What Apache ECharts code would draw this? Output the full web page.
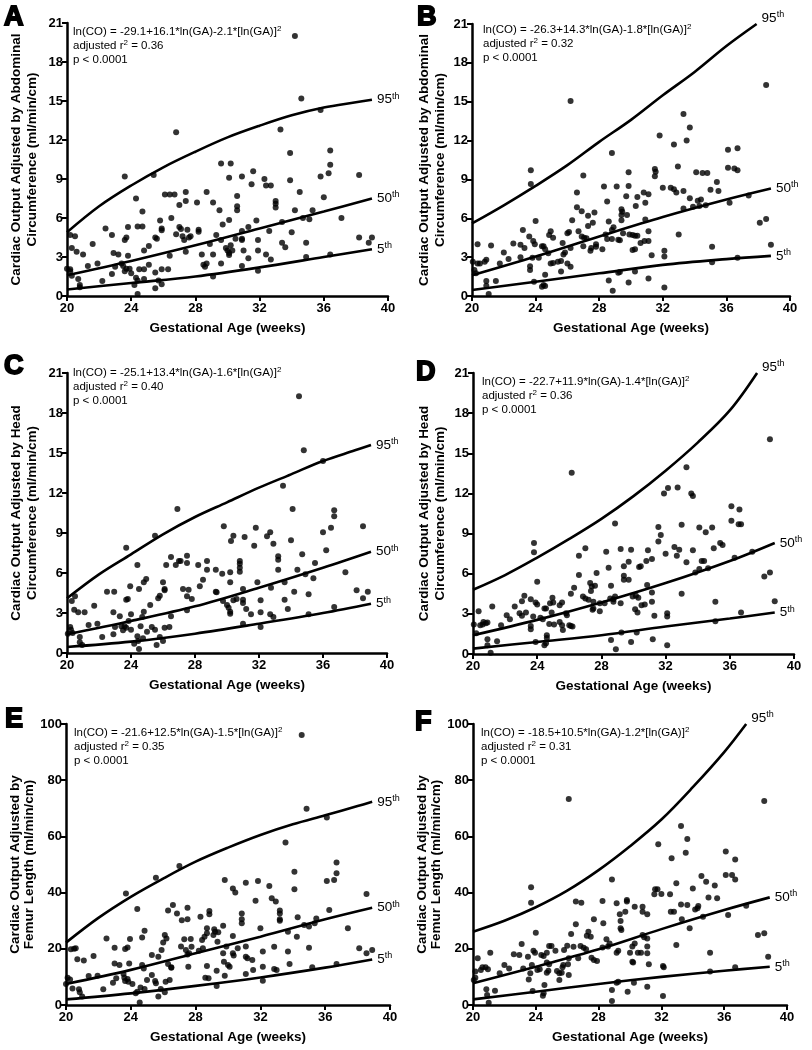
<!DOCTYPE html>
<html><head><meta charset="utf-8">
<script src="https://cdn.jsdelivr.net/npm/echarts@6/dist/echarts.min.js"></script>
<style>html,body{margin:0;padding:0;background:#fff}#c{width:812px;height:1050px}</style>
</head><body><div id="c"></div>
<script>
// ---------- DATA ----------
const panelLetters = ['A','B','C','D','E','F'];
const xTicks = [20,24,28,32,36,40];
const yTicksSmall = [0,3,6,9,12,15,18,21];
const yTicksLarge = [0,20,40,60,80,100];
const xTitle = 'Gestational Age (weeks)';
const yTitles = [
  'Cardiac Output Adjusted by Abdominal\nCircumference (ml/min/cm)',
  'Cardiac Output Adjusted by Abdominal\nCircumference (ml/min/cm)',
  'Cardiac Output Adjusted by Head\nCircumference (ml/min/cm)',
  'Cardiac Output Adjusted by Head\nCircumference (ml/min/cm)',
  'Cardiac Output Adjusted by\nFemur Length (ml/min/cm)',
  'Cardiac Output Adjusted by\nFemur Length (ml/min/cm)'
];
const formulas = [
  'ln(CO) = -29.1+16.1*ln(GA)-2.1*[ln(GA)]',
  'ln(CO) = -26.3+14.3*ln(GA)-1.8*[ln(GA)]',
  'ln(CO) = -25.1+13.4*ln(GA)-1.6*[ln(GA)]',
  'ln(CO) = -22.7+11.9*ln(GA)-1.4*[ln(GA)]',
  'ln(CO) = -21.6+12.5*ln(GA)-1.5*[ln(GA)]',
  'ln(CO) = -18.5+10.5*ln(GA)-1.2*[ln(GA)]'
];
const r2Values = ['0.36','0.32','0.40','0.36','0.35','0.31'];
const pValue = 'p < 0.0001';
const pctNames = ['95','50','5'];

const ptsA = [[34.2,20.0],[34.6,15.2],[35.8,14.3],[26.8,12.6],[33.3,12.8],[33.9,11.0],[36.4,11.2],[36.4,10.1],[36.3,9.45],[35.8,9.2],[38.2,9.3],[23.6,9.2],[25.4,9.3],[29.6,10.2],[30.2,10.2],[31.6,9.6],[30.9,9.2],[30.1,9.1],[32.3,9.0],[33.9,8.9],[31.5,8.6],[32.4,8.5],[32.7,8.5],[28.7,8.0],[27.4,8.0],[34.5,8.0],[26.1,7.8],[26.4,7.8],[26.7,7.8],[27.4,7.3],[27.0,7.0],[28.1,7.2],[29.1,7.2],[30.6,7.7],[30.6,6.9],[30.6,6.6],[33.0,7.3],[33.0,7.1],[33.0,6.8],[36.0,7.6],[24.3,7.5],[37.1,6.0],[34.2,6.6],[34.7,6.0],[35.1,5.9],[35.3,6.6],[29.5,6.6],[26.5,6.0],[30.1,5.85],[25.8,5.8],[31.8,5.8],[24.7,6.5],[25.9,5.2],[25.9,5.05],[27.0,5.3],[27.1,5.15],[27.5,5.1],[28.2,5.1],[28.2,4.95],[22.4,5.2],[23.8,5.3],[24.4,5.35],[24.7,5.35],[22.8,4.7],[23.7,4.5],[23.6,4.3],[20.2,4.7],[20.5,4.6],[20.3,3.7],[20.6,3.4],[21.0,3.2],[21.6,4.0],[23.8,3.1],[22.9,3.3],[23.2,3.2],[24.8,3.5],[25.1,3.85],[25.5,4.5],[25.6,4.4],[26.4,3.1],[26.8,4.75],[27.2,4.6],[27.3,4.3],[27.6,4.5],[27.7,4.6],[27.4,3.4],[28.4,3.2],[28.9,4.0],[29.3,4.7],[29.6,4.3],[29.1,3.2],[28.5,2.4],[28.6,2.25],[28.7,2.5],[29.1,1.5],[29.6,2.5],[29.7,5.5],[29.9,3.7],[30.0,3.5],[30.1,3.3],[30.1,3.15],[30.3,3.5],[30.2,3.9],[30.5,4.4],[30.9,5.0],[30.9,4.4],[30.9,4.3],[31.0,3.5],[31.3,2.9],[30.9,2.3],[31.3,5.3],[31.9,4.3],[31.9,3.5],[31.9,1.95],[32.6,5.0],[32.4,3.2],[32.7,2.8],[33.4,4.1],[33.6,3.75],[34.0,4.9],[33.4,5.7],[34.9,4.1],[34.9,3.0],[36.4,3.2],[38.2,4.5],[38.8,4.1],[39.0,4.5],[19.95,1.6],[20.0,2.1],[20.2,2.05],[20.2,1.9],[20.3,1.55],[20.7,1.3],[20.8,0.85],[20.8,0.67],[21.3,2.3],[21.9,2.5],[22.2,1.15],[22.8,1.7],[23.0,2.25],[23.4,2.5],[23.5,2.3],[23.6,1.9],[23.7,2.1],[23.9,2.1],[24.0,1.75],[24.2,0.85],[24.3,1.4],[24.4,1.2],[24.4,0.15],[24.5,2.05],[24.8,1.3],[24.8,2.05],[25.1,2.4],[25.5,1.8],[25.5,0.6],[25.7,1.2],[25.9,2.05],[25.9,0.9],[26.3,2.05]];
const p95A = [[20,4.9],[22,6.9],[24,8.5],[26,9.9],[28,11.1],[30,12.2],[32,13.1],[34,13.9],[36,14.5],[38,14.9],[39,15.1]];
const p50A = [[20,1.6],[24,2.7],[28,3.9],[32,5.2],[36,6.5],[39,7.5]];
const p5A  = [[20,0.5],[24,1.0],[28,1.5],[32,2.2],[36,3.0],[39,3.6]];

const ptsB = [[38.5,16.3],[26.2,15.05],[33.3,14.05],[33.7,13.0],[33.5,12.0],[31.8,12.4],[32.7,11.7],[28.8,11.05],[36.1,11.3],[36.7,11.4],[36.1,9.9],[36.5,9.85],[36.7,9.7],[23.7,9.7],[23.7,8.65],[29.85,9.55],[31.5,9.8],[31.55,9.6],[31.5,9.25],[32.95,10.0],[34.1,9.55],[34.5,9.5],[34.8,9.5],[27.0,9.3],[29.1,8.45],[28.3,8.45],[29.85,8.5],[32.0,8.35],[32.5,8.35],[32.7,8.25],[32.85,8.0],[33.3,8.1],[35.4,8.8],[35.5,8.1],[35.0,8.2],[26.6,8.0],[29.7,7.7],[30.4,7.65],[30.8,8.0],[30.9,7.2],[31.1,7.85],[37.4,7.75],[36.2,7.2],[33.7,7.55],[34.2,7.35],[34.4,7.45],[33.9,6.9],[34.3,6.95],[34.7,7.0],[33.3,6.75],[30.3,6.95],[28.5,7.3],[26.6,6.85],[27.7,6.45],[27.3,6.2],[26.9,6.55],[29.4,6.7],[29.45,6.5],[29.4,6.25],[29.75,6.25],[30.9,5.9],[26.3,5.85],[24.0,5.8],[28.6,5.75],[29.4,5.85],[26.1,4.95],[26.0,4.85],[26.7,5.0],[26.9,4.6],[27.05,4.5],[27.3,5.4],[27.6,5.65],[28.4,4.75],[28.5,4.4],[28.8,5.1],[28.9,5.3],[28.8,4.4],[29.3,4.3],[29.2,4.35],[29.5,4.85],[29.9,4.75],[30.1,4.7],[30.25,4.65],[30.4,4.65],[30.1,3.55],[30.25,3.6],[30.6,4.1],[30.85,4.25],[31.1,4.25],[31.1,5.0],[31.3,3.15],[32.1,3.5],[32.1,3.05],[32.1,0.65],[33.0,4.75],[35.1,3.8],[35.1,2.6],[36.7,2.95],[38.1,5.65],[38.5,5.95],[38.8,3.95],[31.1,1.35],[29.3,1.85],[29.2,1.8],[28.6,1.2],[28.85,0.4],[29.85,1.05],[30.25,1.9],[28.2,3.6],[27.8,3.8],[27.5,3.7],[27.8,4.0],[27.45,3.5],[27.2,4.45],[27.0,3.85],[26.2,3.7],[25.85,3.35],[25.75,3.2],[25.7,4.1],[25.6,2.7],[25.4,2.65],[26.0,2.5],[26.2,2.25],[25.6,1.9],[25.1,4.5],[25.1,2.55],[24.95,2.5],[24.85,4.7],[24.95,5.0],[24.8,3.3],[24.6,3.6],[24.5,3.85],[24.4,3.85],[24.6,1.65],[24.5,0.85],[24.6,0.77],[24.4,0.72],[24.2,2.95],[23.95,4.0],[23.85,4.25],[23.8,2.95],[23.65,2.3],[23.65,2.0],[23.9,1.1],[23.6,4.6],[23.2,5.1],[23.3,3.7],[23.05,3.95],[23.05,3.0],[22.6,4.05],[22.3,2.85],[22.0,3.35],[21.75,2.5],[21.5,1.15],[21.2,3.9],[20.9,2.8],[20.8,2.65],[20.5,2.5],[20.35,4.0],[20.35,2.5],[20.9,1.15],[20.9,0.8],[21.05,0.15],[20.05,2.65],[20.15,2.0],[20.25,1.75]];
const p95B = [[20,5.6],[22,7.0],[24,8.5],[26,10.1],[28,11.9],[30,13.6],[32,15.5],[34,17.3],[36,19.3],[37.9,21.0]];
const p50B = [[20,1.6],[24,3.05],[28,4.6],[32,6.1],[36,7.45],[38.8,8.3]];
const p5B  = [[20,0.46],[24,1.1],[28,1.75],[32,2.4],[36,2.85],[38.8,3.1]];

const ptsC = [[34.5,19.25],[34.8,15.2],[36.0,14.4],[26.9,10.8],[33.5,12.55],[34.1,10.8],[36.7,10.7],[36.7,10.25],[36.5,9.4],[36.0,9.05],[38.5,9.5],[23.7,7.9],[25.5,8.8],[29.8,9.5],[30.4,8.8],[30.25,8.4],[31.1,8.7],[31.8,9.4],[32.5,8.75],[32.7,9.05],[31.7,8.05],[32.9,8.2],[34.0,8.45],[27.0,6.9],[26.5,7.2],[27.5,7.3],[27.5,6.75],[27.1,6.9],[28.75,6.9],[28.75,6.25],[26.2,6.6],[26.8,6.6],[28.2,6.6],[29.3,6.25],[29.7,5.95],[30.8,6.9],[30.8,6.7],[30.8,6.4],[30.8,6.1],[30.2,6.05],[33.2,7.0],[33.2,7.25],[33.2,6.25],[36.2,7.7],[37.4,6.05],[34.4,6.25],[34.9,5.9],[35.4,5.6],[35.5,6.75],[34.7,7.4],[24.95,5.55],[24.8,5.3],[24.4,6.6],[22.5,4.6],[22.95,4.6],[23.7,4.0],[23.8,4.05],[23.95,5.0],[24.5,4.8],[25.2,3.6],[25.7,4.1],[25.8,4.3],[26.1,4.7],[26.1,4.8],[26.0,5.3],[27.25,4.8],[27.5,4.25],[27.6,4.75],[27.8,4.05],[27.5,3.2],[28.3,5.0],[28.5,5.5],[29.3,4.6],[29.35,4.55],[29.75,3.9],[30.0,3.6],[30.1,3.4],[30.2,3.1],[30.2,2.95],[30.4,3.95],[30.2,5.3],[30.6,4.05],[31.0,4.8],[31.0,4.0],[31.0,3.75],[31.2,3.3],[31.0,2.2],[31.5,2.9],[31.9,5.3],[32.1,3.95],[32.1,3.05],[32.1,1.95],[32.75,4.9],[32.7,2.9],[32.9,2.7],[33.6,4.0],[33.8,3.3],[33.6,5.3],[34.2,4.6],[35.1,4.4],[35.1,2.9],[36.7,3.45],[38.1,4.7],[38.5,4.1],[38.8,4.6],[20.05,1.45],[20.2,1.95],[20.25,1.75],[20.35,1.5],[20.5,4.25],[20.3,3.9],[20.45,3.25],[20.7,3.05],[20.8,1.2],[20.8,0.8],[20.95,0.6],[21.1,3.05],[21.35,2.1],[21.7,3.55],[21.9,2.2],[22.2,1.2],[22.9,3.05],[23.0,1.95],[22.9,1.4],[23.3,2.75],[23.4,2.0],[23.5,1.7],[23.6,2.0],[23.7,1.9],[23.85,2.4],[24.0,1.75],[24.0,2.9],[24.2,0.7],[24.4,1.25],[24.45,0.9],[24.5,0.3],[24.6,2.0],[24.7,2.7],[24.75,1.1],[24.8,3.1],[25.0,1.6],[25.3,1.95],[25.5,1.75],[25.6,0.6],[25.8,1.2],[26.0,0.9],[26.1,1.9],[26.4,1.95],[26.5,2.75]];
const p95C = [[20,4.1],[22,5.9],[24,7.4],[26,8.9],[28,10.2],[30,11.3],[32,12.4],[34,13.4],[36,14.4],[38,15.2],[39,15.6]];
const p50C = [[20,1.4],[24,2.4],[28,3.5],[32,4.9],[36,6.4],[39,7.6]];
const p5C  = [[20,0.45],[24,0.85],[28,1.45],[32,2.2],[36,3.0],[39,3.7]];

const ptsD = [[38.5,16.05],[26.15,13.55],[33.3,13.95],[32.15,12.4],[32.75,12.45],[33.6,12.0],[33.7,11.8],[31.9,12.0],[36.1,11.05],[36.6,10.8],[36.1,9.95],[36.55,9.7],[36.7,9.7],[23.8,8.3],[23.8,7.6],[28.85,9.75],[31.55,9.5],[31.7,8.9],[31.55,8.4],[33.0,9.65],[34.1,9.45],[34.9,9.45],[34.5,9.1],[27.0,7.9],[29.2,7.85],[29.85,7.8],[28.3,7.65],[32.0,7.5],[32.55,8.0],[32.85,7.8],[32.7,7.35],[33.7,7.75],[33.3,6.85],[35.4,8.3],[35.55,8.15],[35.0,7.9],[30.9,7.75],[31.15,7.1],[30.8,6.95],[30.35,6.5],[30.45,6.55],[29.4,6.55],[29.7,6.9],[29.4,5.85],[29.4,5.55],[29.7,5.55],[28.45,6.45],[27.7,6.05],[26.6,7.35],[26.6,5.9],[26.3,4.95],[26.1,4.5],[27.3,5.3],[27.4,5.05],[27.6,5.1],[27.35,4.7],[28.6,5.1],[26.85,4.3],[27.0,4.15],[27.2,4.05],[27.5,3.9],[27.9,3.8],[27.5,3.4],[27.45,3.3],[27.9,3.2],[28.2,3.8],[28.55,4.15],[28.75,4.1],[28.85,4.3],[28.75,3.9],[29.2,3.8],[29.95,4.3],[30.15,4.35],[30.3,4.2],[30.1,3.35],[30.25,3.1],[30.5,3.65],[30.7,3.7],[30.85,5.15],[31.15,4.6],[31.15,3.9],[31.3,2.85],[31.2,1.1],[30.2,1.6],[29.85,0.9],[29.25,1.6],[28.9,0.35],[28.6,1.05],[32.1,3.05],[32.1,2.8],[32.1,0.65],[33.0,4.5],[33.85,6.1],[34.1,6.35],[34.25,6.95],[34.4,6.95],[34.65,6.4],[35.1,3.9],[35.1,2.45],[36.3,7.2],[36.7,3.1],[37.4,7.65],[38.15,5.8],[38.5,6.1],[38.8,3.95],[20.05,2.2],[20.2,1.55],[20.35,3.2],[20.45,2.15],[20.6,2.2],[20.65,2.4],[20.8,2.3],[20.9,2.35],[20.9,1.1],[20.9,0.65],[21.1,0.1],[21.2,3.55],[21.5,0.95],[21.75,2.15],[22.1,2.9],[22.3,2.6],[22.6,3.55],[22.9,3.05],[23.05,2.85],[23.2,4.35],[23.05,3.95],[23.3,3.1],[23.6,4.1],[23.6,2.1],[23.6,1.85],[23.75,2.8],[23.9,3.85],[24.0,3.7],[23.9,0.9],[24.0,5.4],[24.2,2.7],[24.35,2.6],[24.45,3.4],[24.55,3.4],[24.6,1.4],[24.6,1.2],[24.55,0.8],[24.45,0.65],[24.75,2.25],[24.8,3.8],[24.9,3.1],[24.95,4.2],[25.0,3.85],[25.05,2.2],[25.4,3.65],[25.4,2.4],[25.55,3.85],[25.55,2.15],[25.6,1.8],[25.8,3.05],[25.85,2.9],[26.0,2.15],[26.1,2.1],[26.2,2.05]];
const p95D = [[20,4.8],[22,5.9],[24,7.2],[26,8.6],[28,10.1],[30,11.8],[32,13.7],[34,15.8],[36,18.2],[37.7,21.0]];
const p50D = [[20,1.4],[24,2.55],[28,3.85],[32,5.3],[36,6.95],[38.8,8.3]];
const p5D  = [[20,0.4],[24,0.9],[28,1.4],[32,2.05],[36,2.65],[38.8,3.1]];

const ptsE = [[34.55,96.1],[34.85,69.8],[36.1,66.7],[27.0,49.5],[33.55,57.8],[34.1,47.4],[36.7,50.7],[36.7,46.9],[36.55,44.5],[36.1,44.1],[38.55,39.5],[23.7,39.7],[25.55,45.3],[29.8,44.5],[30.3,41.5],[30.45,40.0],[31.1,43.5],[31.85,44.1],[32.55,42.35],[32.7,38.0],[32.95,36.8],[31.7,37.1],[34.1,41.2],[24.4,34.2],[26.3,33.6],[26.6,35.6],[26.85,32.6],[27.5,34.6],[27.5,30.5],[27.15,30.2],[28.3,31.4],[28.85,33.45],[28.85,32.3],[29.7,28.2],[29.15,27.0],[29.2,26.1],[29.4,25.9],[30.3,24.55],[30.85,32.6],[30.85,30.5],[30.85,29.1],[32.0,27.3],[33.2,33.6],[33.2,32.6],[33.2,30.5],[33.2,30.0],[36.25,33.8],[37.4,27.3],[34.3,31.2],[34.7,28.5],[35.0,27.9],[35.45,30.8],[35.35,29.1],[33.7,26.1],[34.25,24.3],[24.85,26.45],[24.7,24.0],[22.5,23.7],[23.0,20.4],[23.65,19.9],[23.8,20.5],[23.95,23.5],[23.9,14.8],[25.3,17.8],[25.7,17.2],[26.0,22.2],[26.2,23.7],[26.1,24.9],[25.9,19.6],[26.3,14.6],[26.5,13.3],[27.1,20.8],[27.3,23.4],[27.4,19.6],[27.5,18.0],[27.6,18.4],[27.7,23.5],[27.75,20.75],[27.55,13.6],[28.2,19.3],[28.4,23.1],[28.55,24.3],[28.7,27.3],[28.7,25.5],[28.45,20.2],[28.7,13.9],[28.6,9.7],[28.8,9.5],[29.1,24.9],[29.35,22.5],[29.3,12.2],[29.3,6.8],[29.7,18.4],[29.75,15.4],[29.8,10.4],[29.9,20.8],[30.0,14.2],[30.1,13.6],[30.3,18.4],[30.35,17.6],[30.6,20.2],[31.1,20.8],[31.1,17.2],[31.2,16.6],[31.1,11.0],[31.5,16.0],[31.55,12.5],[32.15,19.0],[32.15,13.6],[32.15,8.65],[32.85,20.75],[32.85,12.8],[33.0,12.5],[33.7,19.0],[33.8,14.6],[35.0,20.4],[35.2,13.4],[36.7,14.6],[38.1,20.2],[38.55,18.4],[38.9,19.6],[20.0,7.5],[20.1,9.7],[20.25,9.1],[20.3,19.8],[20.5,20.0],[20.6,20.2],[20.4,5.9],[20.7,16.25],[20.8,5.6],[20.85,4.5],[21.0,3.0],[21.1,15.8],[21.4,10.3],[21.7,17.4],[21.95,10.4],[22.3,5.6],[22.9,7.9],[23.0,14.8],[23.3,14.2],[23.1,9.5],[23.55,11.0],[23.6,9.7],[23.65,8.5],[23.8,9.25],[23.85,8.3],[24.1,7.5],[24.3,4.15],[24.4,4.75],[24.55,0.85],[24.6,6.2],[24.7,14.2],[24.8,13.0],[24.85,5.7],[25.0,8.9],[25.3,10.7],[25.5,8.5],[25.55,7.7],[25.7,3.0],[25.85,5.7],[26.1,4.5],[26.15,8.3],[26.4,8.9],[26.5,13.4]];
const p95E = [[20,22.2],[22,31.0],[24,38.5],[26,45.0],[28,51.0],[30,56.0],[32,60.5],[34,64.3],[36,67.5],[38,70.8],[38.9,72.3]];
const p50E = [[20,7.5],[24,12.5],[28,18.4],[32,24.3],[36,30.5],[38.9,34.6]];
const p5E  = [[20,2.0],[24,4.15],[28,6.8],[32,9.8],[36,13.3],[38.9,16.2]];

const ptsF = [[38.55,72.6],[26.1,73.3],[33.25,63.7],[33.65,59.1],[33.55,54.2],[31.8,57.2],[32.65,52.2],[28.85,44.7],[36.1,54.6],[36.7,51.8],[36.1,46.3],[36.5,46.3],[36.7,44.7],[23.7,41.9],[23.7,36.4],[29.8,37.4],[29.8,36.8],[31.6,41.2],[31.75,41.2],[31.55,39.4],[32.95,43.3],[34.0,41.5],[34.85,43.9],[34.55,45.9],[35.4,42.5],[35.55,38.0],[35.0,38.3],[32.0,39.5],[32.55,39.4],[26.55,36.8],[26.9,36.4],[29.15,36.2],[28.25,37.0],[29.7,33.2],[29.35,32.3],[30.3,35.0],[30.8,35.0],[30.8,33.2],[31.1,32.3],[32.6,33.2],[32.8,33.2],[33.25,35.8],[33.65,35.6],[34.15,34.0],[34.3,34.4],[34.35,35.2],[33.3,30.5],[33.8,27.3],[34.65,31.4],[36.25,32.0],[37.4,35.3],[38.15,24.9],[38.55,25.5],[38.8,17.2],[36.7,13.4],[35.1,18.6],[35.1,11.9],[32.95,21.35],[32.1,13.9],[32.15,13.4],[32.1,3.2],[31.1,20.8],[31.1,18.4],[31.1,23.7],[30.8,24.9],[30.9,24.1],[31.2,14.5],[31.1,6.5],[30.25,7.9],[29.85,4.7],[29.25,8.3],[29.15,7.9],[28.85,5.3],[28.85,1.4],[30.5,18.6],[30.7,18.6],[30.0,18.6],[30.15,15.4],[30.2,15.1],[30.3,21.9],[30.15,20.8],[29.4,29.9],[29.4,27.3],[29.45,26.7],[29.25,19.3],[29.15,18.6],[28.6,20.8],[28.5,23.4],[28.7,21.9],[28.3,29.1],[28.25,20.5],[27.9,15.7],[27.7,16.0],[27.55,16.8],[27.7,30.5],[27.5,24.3],[27.35,26.1],[27.25,24.6],[27.2,19.8],[27.05,20.4],[26.85,21.0],[26.55,28.7],[26.7,16.6],[26.4,20.75],[26.25,25.3],[26.0,21.1],[26.1,16.6],[26.05,14.5],[26.1,10.7],[25.8,19.6],[25.75,14.2],[25.7,13.4],[25.65,11.5],[25.5,11.3],[25.35,12.1],[25.5,8.9],[25.25,19.3],[25.0,21.0],[24.85,21.0],[24.7,18.6],[24.7,15.1],[24.85,14.5],[24.7,11.5],[24.8,12.2],[24.55,7.1],[24.5,4.15],[24.45,3.3],[24.35,17.8],[24.5,17.4],[24.25,12.7],[24.1,12.5],[24.0,25.7],[23.85,19.3],[23.95,18.6],[23.75,14.2],[23.65,11.3],[23.55,9.1],[23.8,5.0],[23.5,17.2],[23.1,21.7],[23.2,13.0],[22.95,17.8],[22.6,18.1],[22.3,13.0],[22.0,14.2],[21.7,11.3],[21.4,5.1],[21.1,18.6],[20.95,12.7],[20.8,13.4],[20.85,5.6],[20.9,3.6],[21.0,0.8],[20.6,13.4],[20.5,12.5],[20.3,16.6],[20.15,11.9],[20.05,8.9],[20.15,9.7],[19.95,12.1]];
const p95F = [[20,26.1],[22,30.0],[24,34.8],[26,40.7],[28,48.0],[30,56.5],[32,66.0],[34,77.5],[36,90.0],[37.4,100]];
const p50F = [[20,7.7],[24,13.6],[28,19.8],[32,27.0],[36,33.8],[38.9,38.3]];
const p5F  = [[20,2.0],[24,4.7],[28,7.5],[32,10.0],[36,12.2],[38.9,13.6]];

// ---------- LAYOUT / STYLE ----------
const FF = '"Liberation Sans", Arial, Helvetica, sans-serif';
const grids = [
  {left:67, top:23, width:321, height:273},
  {left:472, top:24, width:318, height:272},
  {left:67, top:373, width:320, height:280},
  {left:473, top:373, width:321, height:281},
  {left:66, top:724, width:324, height:281},
  {left:473, top:724, width:314, height:281}
];
const yNameGaps = [27, 24, 27, 25, 19, 22];
const yNameLH = [16, 16, 16, 16, 14, 14];
const letterPos = [[3,3],[416,3],[3,352],[415,358],[4,705],[414,708]];
const annPos = [[73,25],[483,23],[73,366],[482,375],[74,726],[481,726]];

const panelPts = [ptsA, ptsB, ptsC, ptsD, ptsE, ptsF];
const panelCurves = [[p95A,p50A,p5A],[p95B,p50B,p5B],[p95C,p50C,p5C],[p95D,p50D,p5D],[p95E,p50E,p5E],[p95F,p50F,p5F]];
const panelYTicks = [yTicksSmall, yTicksSmall, yTicksSmall, yTicksSmall, yTicksLarge, yTicksLarge];
const topClipped = [false, true, false, true, false, true];

const chart = echarts.init(document.getElementById('c'), null, {renderer:'canvas', width:812, height:1050});

const xAxes = [], yAxes = [], series = [], graphics = [];
const axisLineStyle = {show:true, lineStyle:{color:'#000', width:2.5}};
const axisTickStyle = {show:true, inside:false, length:5, lineStyle:{color:'#000', width:2}};
const axisLabelStyle = {color:'#000', fontFamily:FF, fontWeight:'bold', fontSize:13};

for (let i = 0; i < 6; i++) {
  const yt = panelYTicks[i];
  xAxes.push({
    gridIndex:i, type:'value', min:xTicks[0], max:xTicks[xTicks.length-1], interval:xTicks[1]-xTicks[0],
    axisLine:axisLineStyle, axisTick:axisTickStyle, splitLine:{show:false},
    axisLabel:Object.assign({margin:6}, axisLabelStyle),
    name:xTitle, nameLocation:'middle', nameGap:25,
    nameTextStyle:{color:'#000', fontFamily:FF, fontWeight:'bold', fontSize:13.5}
  });
  yAxes.push({
    gridIndex:i, type:'value', min:yt[0], max:yt[yt.length-1], interval:yt[1]-yt[0],
    axisLine:axisLineStyle, axisTick:axisTickStyle, splitLine:{show:false},
    axisLabel:Object.assign({margin:4}, axisLabelStyle),
    name:yTitles[i], nameLocation:'middle', nameRotate:90, nameGap:yNameGaps[i],
    nameTextStyle:{color:'#000', fontFamily:FF, fontWeight:'bold', fontSize:13.5, lineHeight:yNameLH[i], align:'center'}
  });
  series.push({
    type:'scatter', xAxisIndex:i, yAxisIndex:i, data:panelPts[i],
    symbol:'circle', symbolSize:6, itemStyle:{color:'#000'}, silent:true, z:3
  });
  panelCurves[i].forEach((curve, k) => {
    const off = (k === 0 && topClipped[i]) ? [0,-6] : [0,0];
    series.push({
      type:'line', xAxisIndex:i, yAxisIndex:i, data:curve, smooth:0.35,
      showSymbol:false, symbol:'none', silent:true, z:2,
      lineStyle:{color:'#000', width:2.6},
      endLabel:{
        show:true, distance:5, offset:off,
        formatter:'{n|' + pctNames[k] + '}{s|th}',
        rich:{
          n:{fontSize:13.5, fontFamily:FF, color:'#000', lineHeight:16},
          s:{fontSize:9, fontFamily:FF, color:'#000', lineHeight:6, verticalAlign:'top'}
        }
      }
    });
  });
  graphics.push({
    type:'text', left:letterPos[i][0], top:letterPos[i][1],
    style:{text:panelLetters[i], font:'bold 27px ' + FF, fill:'#000', stroke:'#000', lineWidth:1.8}
  });
  graphics.push({
    type:'text', left:annPos[i][0], top:annPos[i][1],
    style:{
      text:'{t|' + formulas[i] + '}{s|2}\n{t|adjusted r}{s|2}{t| = ' + r2Values[i] + '}\n{t|' + pValue + '}',
      rich:{
        t:{fontSize:11.5, fontFamily:FF, fill:'#000', lineHeight:14},
        s:{fontSize:8, fontFamily:FF, fill:'#000', lineHeight:5, verticalAlign:'top'}
      }
    }
  });
}

chart.setOption({
  animation:false,
  backgroundColor:'#fff',
  grid:grids.map(g => Object.assign({containLabel:false}, g)),
  xAxis:xAxes, yAxis:yAxes, series:series, graphic:graphics
});
</script>
</body></html>
